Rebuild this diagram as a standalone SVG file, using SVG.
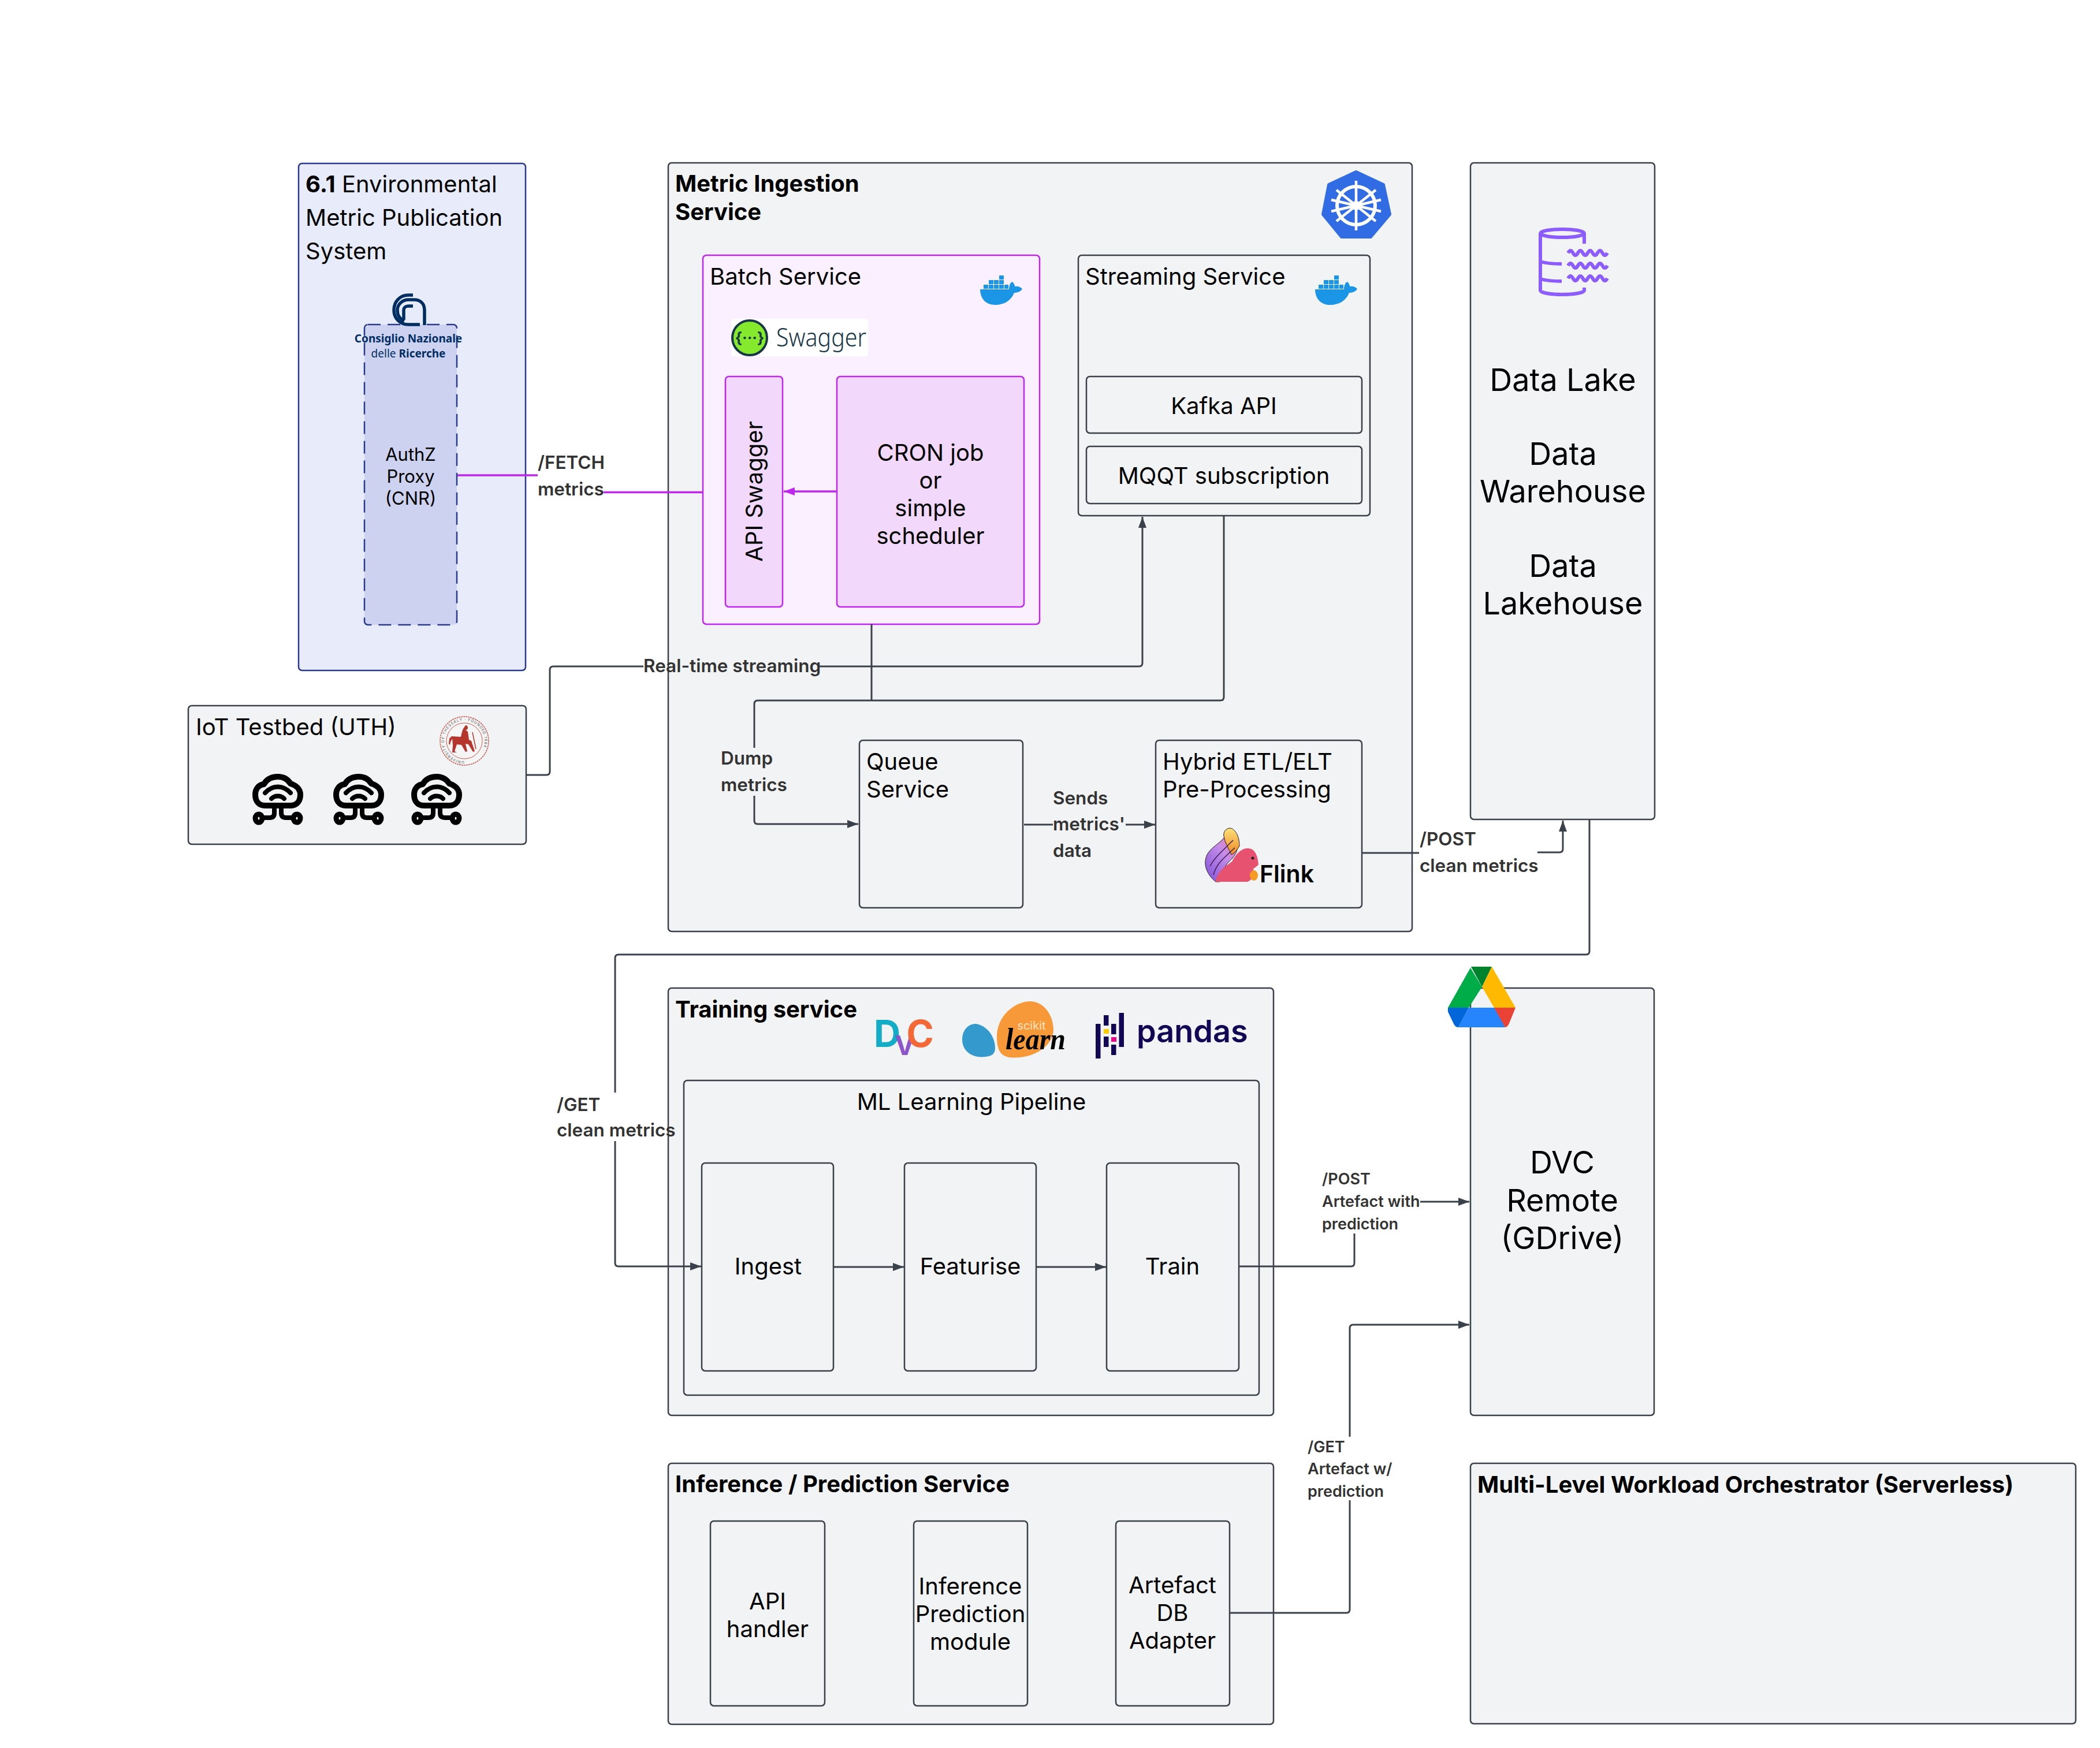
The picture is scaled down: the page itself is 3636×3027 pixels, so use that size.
<svg xmlns="http://www.w3.org/2000/svg" width="3636" height="3027" viewBox="0 0 3636 3027">
<style>
text{font-family:Inter,"Liberation Sans",sans-serif;fill:#000}
.b{fill:#f2f3f5;stroke:#3a414a;stroke-width:2.500}
.env{fill:#e8ebfa;stroke:#2b3a8c;stroke-width:2.500}
.dash{fill:#cdd2f0;stroke:#2b3a8c;stroke-width:2.500;stroke-dasharray:22 12}
.bat{fill:#fbf0ff;stroke:#c026f0;stroke-width:2.500}
.batin{fill:#f2d9fb;stroke:#c026f0;stroke-width:2.500}
.t{font-size:40px}
.m{font-size:40px;text-anchor:middle}
.h{font-size:40px;font-weight:700}
.xl{font-size:54px;text-anchor:middle}
.l{font-size:31.500px;font-weight:600;fill:#333}
.s{font-size:27px;font-weight:600;fill:#333}
.c{fill:none;stroke:#3a414a;stroke-width:3}
.cm{marker-end:url(#a)}
.p{fill:none;stroke:#c026f0;stroke-width:3.500}
.whale{fill:#1b95e5}
.bar{fill:#130654}
</style>
<defs>
<marker id="a" markerUnits="userSpaceOnUse" markerWidth="20" markerHeight="16" refX="19" refY="8" orient="auto"><path d="M0 1L19 8L0 15Z" fill="#3a414a"/></marker>
<marker id="ap" markerUnits="userSpaceOnUse" markerWidth="20" markerHeight="16" refX="19" refY="8" orient="auto"><path d="M0 1L19 8L0 15Z" fill="#c026f0"/></marker>
<g id="docker"><path d="M0 24H50C50 18 52 12 56 11C59 14 60 17 60 19C64 18 69 19 73 23C70 29 63 30 59 30C54 43 42 51 26 51C8 51 0 38 0 24Z" class="whale"/><path d="M6 16h8v7h-8zM15 16h8v7h-8zM24 16h8v7h-8zM33 16h8v7h-8zM42 16h7v7h-7zM15 8h8v7h-8zM24 8h8v7h-8zM33 8h8v7h-8zM33 0h8v7h-8z" class="whale"/></g>
<g id="iot" fill="none" stroke="#000" stroke-width="10" stroke-linecap="round" stroke-linejoin="round"><path d="M22 55C10 55 5 46 5 36C5 26 11 19 20 18C25 9 33 5 44 5C53 5 61 9 66 17C76 20 83 27 83 36C83 46 78 55 66 55Z"/><path d="M22 33C35 19 53 19 66 33M33 43C39 37 49 37 55 43" stroke-width="8"/><path d="M38 56V68Q38 76 30 76H19M50 56V68Q50 76 58 76H69" stroke-width="8"/><ellipse cx="11" cy="77" rx="6" ry="7" stroke-width="9"/><ellipse cx="77" cy="77" rx="6" ry="7" stroke-width="9"/></g>
<linearGradient id="tip" x1="0" y1="0" x2="0" y2="1"><stop offset="0" stop-color="#fde07a"/><stop offset="1" stop-color="#f08a24"/></linearGradient>
<linearGradient id="tail" x1="0" y1="1" x2="1" y2="0"><stop offset="0" stop-color="#7f4fd8"/><stop offset=".6" stop-color="#c58ce8"/><stop offset="1" stop-color="#ef7fa0"/></linearGradient>
<path id="sealp" d="M804 1318A35 35 0 1 1 804.010 1318"/>
</defs>

<g id="env-system"><rect x="517" y="283" width="393" height="878" rx="6" class="env"/>
<text class="t" x="529" y="333"><tspan font-weight="700">6.1</tspan> Environmental</text><text class="t" x="529" y="391">Metric Publication</text><text class="t" x="529" y="449">System</text></g>
<g id="authz"><rect x="631" y="562" width="160" height="520" rx="6" class="dash"/>
<text x="711" y="798" font-size="31" text-anchor="middle">AuthZ</text><text x="711" y="836" font-size="31" text-anchor="middle">Proxy</text><text x="711" y="874" font-size="31" text-anchor="middle">(CNR)</text></g>
<g id="cnr-logo"><g fill="none" stroke="#002d62" stroke-width="5.500"><path d="M715 511H707C691 511 682 524 682 537C682 552 693 562 707 562H727"/><path d="M735 563V537C735 525 727 519 717 519H707C697 519 688 527 688 537C688 547 693 553 700 556"/><path d="M715 530H707C702 530 699 533 699 537V554"/></g>
<text x="707" y="593" font-size="19" font-weight="700" text-anchor="middle" style="font-family:'Noto Sans',sans-serif;fill:#002d62">Consiglio Nazionale</text>
<text x="707" y="619" font-size="19" text-anchor="middle" style="font-family:'Noto Sans',sans-serif;fill:#002d62">delle <tspan font-weight="700">Ricerche</tspan></text></g>

<g id="iot-testbed"><rect x="326" y="1222" width="585" height="240" rx="6" class="b"/>
<text class="t" x="339" y="1273">IoT Testbed (UTH)</text>
<g id="uth-seal"><circle cx="804" cy="1283" r="42" fill="#f5f5f6" stroke="#c9584e" stroke-width="1.500" stroke-dasharray="3 1"/><circle cx="804" cy="1283" r="31" fill="none" stroke="#c9584e" stroke-width="1"/>
<text font-size="6.500" letter-spacing="1" style="fill:#555"><textPath href="#sealp">UNIVERSITY OF THESSALY · FOUNDED 1984 ·</textPath></text>
<path d="M806 1256a4 4 0 0 1 0 8l4 3 2 14 4 2 6 18-3 1-8-13-5-1 3 13-3 1-7-12-8-1-4 12 4 2-8 0 1-12-1-12-3 6-1 5-2-2 1-9 4-4 16 1 2-9 2-5z" fill="#b5352d"/><path d="M818 1268L824 1297" stroke="#b5352d" stroke-width="1.500"/></g>
<use href="#iot" x="437" y="1340"/><use href="#iot" x="577" y="1340"/><use href="#iot" x="712" y="1340"/></g>

<g id="metric-ingestion"><rect x="1157" y="282" width="1288" height="1331" rx="6" class="b"/>
<text class="h" x="1169" y="332">Metric Ingestion</text><text class="h" x="1169" y="381">Service</text>
<g id="k8s-logo"><path d="M2348 298L2395 320L2406 371L2373 410H2323L2291 371L2301 320Z" fill="#326ce5" stroke="#326ce5" stroke-width="6" stroke-linejoin="round"/><g fill="none" stroke="#fff" stroke-width="6"><circle cx="2348" cy="356" r="33"/><path d="M2348 313V399M2314 329L2382 383M2382 329L2314 383M2305 366L2391 346M2391 366L2305 346" stroke-width="4.500"/></g><circle cx="2348" cy="356" r="8" fill="#fff"/></g></g>

<g id="batch-service"><rect x="1217" y="442" width="583" height="639" rx="6" class="bat"/>
<text class="t" x="1229" y="493">Batch Service</text>
<use href="#docker" x="1697" y="477"/>
<g id="swagger-logo"><rect x="1266" y="552" width="237" height="65" rx="4" fill="#fff"/><circle cx="1298" cy="585" r="30" fill="#85ea2d" stroke="#173647" stroke-width="4"/><text x="1298" y="594" font-size="26" font-weight="700" text-anchor="middle" style="fill:#173647">{···}</text><text x="1344" y="600" font-size="44" font-weight="300" textLength="156" lengthAdjust="spacingAndGlyphs" style="font-family:'Noto Sans',sans-serif;fill:#173647">Swagger</text></g></g>
<g id="api-swagger"><rect x="1256" y="652" width="99" height="399" rx="6" class="batin"/><text class="m" transform="translate(1320 851) rotate(-90)">API Swagger</text></g>
<g id="cron"><rect x="1449" y="652" width="324" height="399" rx="6" class="batin"/>
<text class="m" x="1611" y="798">CRON job</text><text class="m" x="1611" y="846">or</text><text class="m" x="1611" y="894">simple</text><text class="m" x="1611" y="942">scheduler</text></g>

<g id="streaming-service"><rect x="1867" y="442" width="505" height="451" rx="6" class="b"/><text class="t" x="1879" y="493">Streaming Service</text><use href="#docker" x="2277" y="477"/></g>
<g id="kafka"><rect x="1881" y="652" width="477" height="98" rx="6" class="b"/><text class="m" x="2119" y="717">Kafka API</text></g>
<g id="mqtt"><rect x="1881" y="773" width="477" height="99" rx="6" class="b"/><text class="m" x="2119" y="838">MQQT subscription</text></g>

<g id="queue"><rect x="1488" y="1282" width="283" height="290" rx="6" class="b"/><text class="t" x="1500" y="1333">Queue</text><text class="t" x="1500" y="1381">Service</text></g>
<g id="etl"><rect x="2001" y="1282" width="357" height="290" rx="6" class="b"/><text class="t" x="2013" y="1333">Hybrid ETL/ELT</text><text class="t" x="2013" y="1381">Pre-Processing</text>
<g id="flink-logo"><path d="M2105 1527C2090 1515 2082 1497 2090 1480C2096 1468 2110 1462 2120 1450L2142 1450C2146 1465 2142 1480 2128 1492C2118 1502 2115 1515 2112 1527Z" fill="url(#tail)" stroke="#222" stroke-width="1"/><path d="M2120 1452C2116 1442 2122 1434 2130 1434C2140 1436 2146 1450 2146 1465C2140 1475 2136 1478 2132 1480C2128 1470 2122 1462 2120 1452Z" fill="url(#tip)" stroke="#222" stroke-width="1"/><path d="M2105 1527C2106 1510 2122 1500 2133 1492C2140 1478 2152 1465 2166 1470C2176 1474 2178 1488 2179 1497C2174 1503 2170 1503 2170 1505C2172 1515 2168 1524 2160 1527Z" fill="#e65270"/><path d="M2095 1500C2103 1485 2115 1475 2135 1455M2101 1515C2106 1495 2120 1485 2138 1468" fill="none" stroke="#3a1d55" stroke-width="1.500"/><circle cx="2169" cy="1486" r="2.500" fill="#222"/><ellipse cx="2171" cy="1516" rx="7" ry="9" fill="#f59a23"/></g>
<text x="2181" y="1528" font-size="41" font-weight="600">Flink</text></g>

<g id="data-lake"><rect x="2546" y="282" width="319" height="1137" rx="6" class="b"/>
<g id="lake-icon" fill="none" stroke="#8c5cff" stroke-width="6"><ellipse cx="2705" cy="404" rx="38" ry="7"/><path d="M2743 404V422M2667 404V503C2667 507 2685 510 2705 510C2725 510 2743 507 2743 503V498M2667 453C2677 456 2690 457 2704 457M2667 483C2677 486 2690 487 2704 487"/><path d="M2715 438q4.250-8 8.500 0t8.500 0t8.500 0t8.500 0t8.500 0t8.500 0t8.500 0t8.500 0M2715 460q4.250-8 8.500 0t8.500 0t8.500 0t8.500 0t8.500 0t8.500 0t8.500 0t8.500 0M2715 482q4.250-8 8.500 0t8.500 0t8.500 0t8.500 0t8.500 0t8.500 0t8.500 0t8.500 0"/></g>
<text class="xl" x="2706" y="677">Data Lake</text><text class="xl" x="2706" y="805">Data</text><text class="xl" x="2706" y="870">Warehouse</text><text class="xl" x="2706" y="999">Data</text><text class="xl" x="2706" y="1064">Lakehouse</text></g>

<g id="training-service"><rect x="1157" y="1711" width="1048" height="740" rx="6" class="b"/>
<text class="h" x="1169" y="1762">Training service</text>
<g id="dvc-logo"><text x="1513" y="1813" font-size="64" font-weight="700"><tspan style="fill:#13adc7">D</tspan><tspan dx="-10" dy="14" font-size="46" style="fill:#8c55c9">V</tspan><tspan dx="-14" dy="-14" style="fill:#f46737">C</tspan></text></g>
<g id="sklearn-logo"><path d="M1666 1800C1666 1785 1675 1773 1690 1773C1709 1776 1723 1795 1723 1815C1723 1826 1716 1829 1706 1830C1686 1833 1666 1822 1666 1800Z" fill="#3499cd"/><path d="M1726 1795C1726 1760 1756 1734 1785 1734C1810 1736 1824 1760 1824 1785C1822 1810 1796 1828 1766 1831C1741 1833 1726 1830 1726 1795Z" fill="#f89939"/><text x="1786" y="1783" font-size="20" text-anchor="middle" style="fill:#fbe3c2">scikit</text><text x="1741" y="1817" font-size="52" font-weight="700" font-style="italic" textLength="104" lengthAdjust="spacingAndGlyphs" style="font-family:'Liberation Serif',serif">learn</text></g>
<g id="pandas-logo"><path class="bar" d="M1897 1773h8.500v60h-8.500zM1911 1758h8.500v18h-8.500zM1911 1795h8.500v18h-8.500zM1924 1773h8.500v18h-8.500zM1924 1809h8.500v18h-8.500zM1937.500 1754h8.500v59h-8.500z"/><rect x="1911" y="1782" width="9" height="8" fill="#ffca00"/><rect x="1924" y="1796" width="9" height="8" fill="#e70488"/><text x="1968" y="1805" font-size="54" font-weight="600" style="fill:#130654">pandas</text></g></g>
<g id="ml-pipeline"><rect x="1184" y="1871" width="996" height="545" rx="6" class="b"/><text class="m" x="1682" y="1922">ML Learning Pipeline</text></g>
<g id="ingest"><rect x="1215" y="2014" width="228" height="360" rx="6" class="b"/><text class="m" x="1330" y="2207">Ingest</text></g>
<g id="featurise"><rect x="1566" y="2014" width="228" height="360" rx="6" class="b"/><text class="m" x="1680" y="2207">Featurise</text></g>
<g id="train"><rect x="1916" y="2014" width="229" height="360" rx="6" class="b"/><text class="m" x="2030" y="2207">Train</text></g>

<g id="dvc-remote"><rect x="2546" y="1711" width="318" height="740" rx="6" class="b"/><text class="xl" x="2705" y="2032">DVC</text><text class="xl" x="2705" y="2098">Remote</text><text class="xl" x="2705" y="2163">(GDrive)</text>
<g id="gdrive-logo"><path d="M2547 1674H2583L2566 1709Z" fill="#00832d"/><path d="M2546 1676L2566 1709L2543 1745H2507Z" fill="#00ac47"/><path d="M2583 1674L2624 1745H2587L2566 1709Z" fill="#ffba00"/><path d="M2507 1745H2543L2525 1779Q2520 1779 2517 1773L2507 1752Z" fill="#0066da"/><path d="M2543 1745H2589L2606 1779H2525Z" fill="#2684fc"/><path d="M2587 1745H2624L2613 1772Q2610 1779 2606 1779Z" fill="#ea4335"/></g></g>

<g id="inference-service"><rect x="1157" y="2534" width="1048" height="452" rx="6" class="b"/><text class="h" x="1169" y="2584">Inference / Prediction Service</text></g>
<g id="api-handler"><rect x="1230" y="2634" width="198" height="320" rx="6" class="b"/><text class="m" x="1329" y="2787">API</text><text class="m" x="1329" y="2835">handler</text></g>
<g id="inference-module"><rect x="1582" y="2634" width="197" height="320" rx="6" class="b"/><text class="m" x="1680" y="2761">Inference</text><text class="m" x="1680" y="2809">Prediction</text><text class="m" x="1680" y="2857">module</text></g>
<g id="artefact-adapter"><rect x="1932" y="2634" width="197" height="320" rx="6" class="b"/><text class="m" x="2030" y="2759">Artefact</text><text class="m" x="2030" y="2807">DB</text><text class="m" x="2030" y="2855">Adapter</text></g>

<g id="orchestrator"><rect x="2546" y="2534" width="1048" height="451" rx="6" class="b"/><text class="h" x="2558" y="2585">Multi-Level Workload Orchestrator (Serverless)</text></g>

<g id="connectors">
<path class="p" d="M792 823H931M1045 852.500H1217"/>
<path class="p" d="M1449 851H1357" marker-end="url(#ap)"/>
<path class="c" d="M911 1342H946Q952 1342 952 1336V1160Q952 1154 958 1154H1114"/>
<path class="c cm" d="M1419 1154H1972Q1978 1154 1978 1148V895"/>
<path class="c" d="M1509 1081V1213M2119 893V1207Q2119 1213 2113 1213H1312Q1306 1213 1306 1219V1295"/>
<path class="c cm" d="M1306 1378V1421Q1306 1427 1312 1427H1486"/>
<path class="c" d="M1773 1428H1823"/><path class="c cm" d="M1949 1428H2000"/>
<path class="c" d="M2358 1477H2457"/><path class="c cm" d="M2662 1476H2700Q2706 1476 2706 1470V1421"/>
<path class="c" d="M2752 1419V1647Q2752 1653 2746 1653H1071Q1065 1653 1065 1659V1892"/>
<path class="c cm" d="M1065 1976V2187Q1065 2193 1071 2193H1214"/>
<path class="c cm" d="M1443 2194H1565"/><path class="c cm" d="M1794 2194H1915"/>
<path class="c" d="M2145 2193H2339Q2345 2193 2345 2187V2136"/>
<path class="c cm" d="M2459 2081H2544"/>
<path class="c" d="M2129 2793H2331Q2337 2793 2337 2787V2598M2337 2488V2300Q2337 2294 2343 2294"/>
<path class="c cm" d="M2343 2294H2544"/>
</g>
<g id="connector-labels">
<text class="l" x="931" y="812">/FETCH</text><text class="l" x="931" y="858">metrics</text>
<text class="l" x="1114" y="1164">Real-time streaming</text>
<text class="l" x="1248" y="1324">Dump</text><text class="l" x="1248" y="1370">metrics</text>
<text class="l" x="1823" y="1393">Sends</text><text class="l" x="1823" y="1438">metrics'</text><text class="l" x="1823" y="1484">data</text>
<text class="l" x="2458" y="1464">/POST</text><text class="l" x="2458" y="1510">clean metrics</text>
<text class="l" x="964" y="1924">/GET</text><text class="l" x="964" y="1968">clean metrics</text>
<text class="s" x="2289" y="2051">/POST</text><text class="s" x="2289" y="2090">Artefact with</text><text class="s" x="2289" y="2129">prediction</text>
<text class="s" x="2264" y="2515">/GET</text><text class="s" x="2264" y="2553">Artefact w/</text><text class="s" x="2264" y="2592">prediction</text>
</g>
</svg>
